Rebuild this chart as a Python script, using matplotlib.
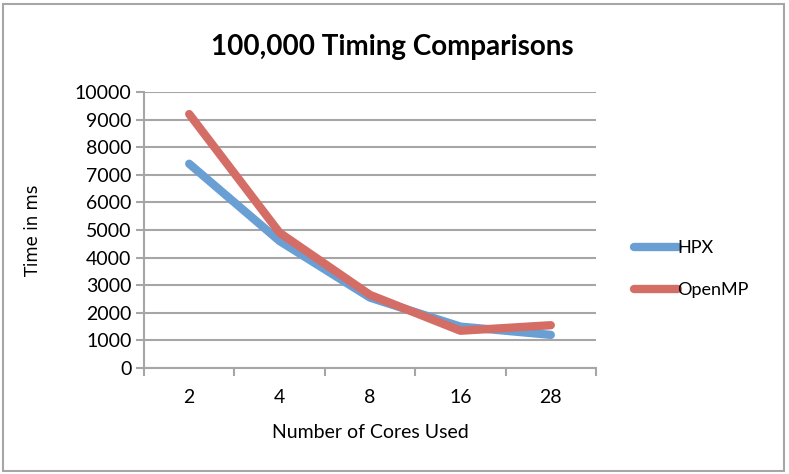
import matplotlib.pyplot as plt
from matplotlib.patches import Rectangle
import numpy as np

plt.rcParams['font.family'] = ['Lato', 'DejaVu Sans']

cores = ['2', '4', '8', '16', '28']
hpx = [7400, 4600, 2550, 1500, 1200]
openmp = [9200, 4900, 2650, 1350, 1550]

fig = plt.figure(figsize=(7.89, 4.74), dpi=100)
ax = fig.add_axes([144/789, 1-368/474, (596-144)/789, (368-92)/474])

x = np.arange(len(cores))
ax.plot(x, hpx, color='#6a9fd4', lw=6, solid_capstyle='round', label='HPX')
ax.plot(x, openmp, color='#d46d66', lw=6, solid_capstyle='round', label='OpenMP')

ax.set_xlim(-0.5, len(cores) - 0.5)
ax.set_ylim(0, 10000)
ax.set_yticks(np.arange(0, 10001, 1000))
ax.yaxis.grid(True, color='#a6a6a6', lw=1.5)
ax.set_axisbelow(True)

# excel-style category axis: tick marks between categories
ax.set_xticks(np.arange(-0.5, len(cores)), labels=[''] * (len(cores) + 1))
ax.set_xticks(x, labels=cores, minor=True)
ax.tick_params(axis='x', which='minor', length=0, pad=15, labelsize=14)
ax.tick_params(axis='x', which='major', length=6, color='#a6a6a6', width=1.5)
ax.tick_params(axis='y', length=6, color='#a6a6a6', width=1.5, labelsize=14, pad=3)

for s in ['top', 'right']:
    ax.spines[s].set_visible(False)
for s in ['left', 'bottom']:
    ax.spines[s].set_color('#a6a6a6')
    ax.spines[s].set_linewidth(1.5)

ax.set_xlabel('Number of Cores Used', fontsize=14)
ax.xaxis.set_label_coords(0.5, (368 - 432) / 276, transform=ax.transAxes)
ax.xaxis.label.set_va('center')
ax.set_ylabel('Time in ms', fontsize=12, family='DejaVu Sans')
ax.yaxis.set_label_coords((33 - 144) / 452, 0.5)
ax.yaxis.label.set_va('center')

fig.text(392/789, 1 - 47/474, '100,000 Timing Comparisons',
         ha='center', va='center', fontsize=20, fontweight='bold')

leg = fig.legend(loc='center left', bbox_to_anchor=(618/789, 1 - 269/474),
                 frameon=False, fontsize=13, handlelength=2.4, labelspacing=1.45,
                 handletextpad=0.0)

fig.patches.append(Rectangle((3/789, 3/474), 781/789, 467/474, transform=fig.transFigure,
                             fill=False, edgecolor='#a6a6a6', lw=1.5))

fig.savefig('out.png', dpi=100)
